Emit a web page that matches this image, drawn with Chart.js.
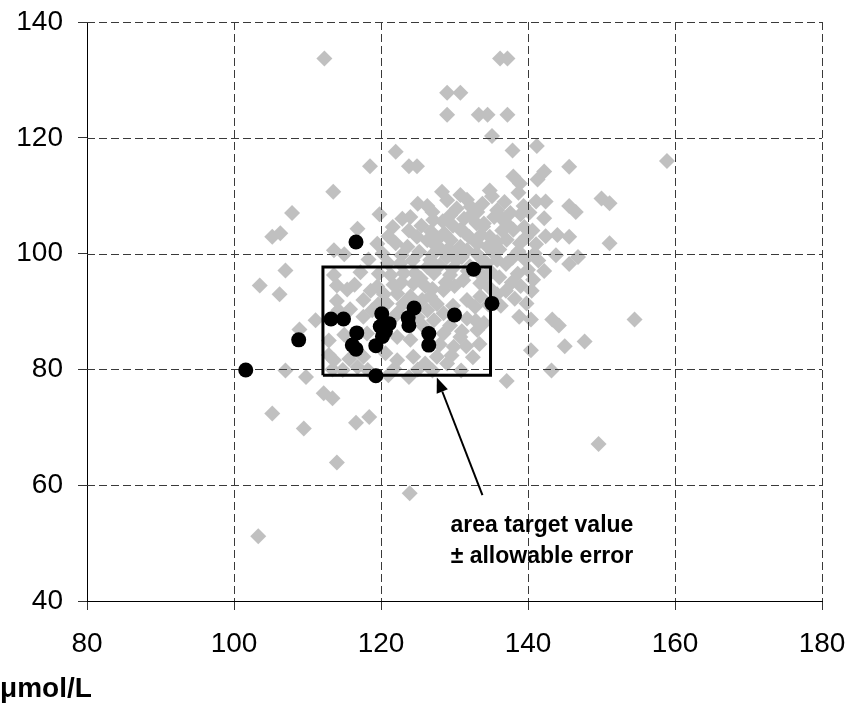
<!DOCTYPE html>
<html>
<head>
<meta charset="utf-8">
<title>Creatinine: laboratory results vs. peer group</title>
<script src="https://cdn.jsdelivr.net/npm/chart.js@4"></script>
<style>
  html, body { margin: 0; padding: 0; background: #fff; }
  #c { display: block; }
</style>
</head>
<body>
<canvas id="c" width="848" height="709"></canvas>
<script>
// Peer-group results (grey diamonds), x = method A, y = method B, µmol/L
const peerResults = [
  [112.3,133.7],[136.2,133.7],[137.2,133.7],[129.0,127.8],[130.8,127.8],
  [129.0,124.0],[133.3,124.0],[134.5,124.0],[137.2,124.0],[135.1,120.3],
  [122.0,117.6],[137.9,117.8],[141.2,118.6],[118.5,115.1],[123.8,115.1],
  [124.9,115.1],[145.6,115.0],[158.9,116.0],[138.0,113.3],[138.9,112.1],
  [141.3,112.8],[142.2,114.2],
  [113.5,110.7],[128.3,110.7],[130.8,110.1],[131.7,109.3],[135.1,109.9],
  [138.7,110.5],[141.1,109.0],[142.4,109.0],[145.6,108.2],[146.5,107.2],
  [150.0,109.5],[151.1,108.7],[107.9,107.0],[126.3,108.2],[130.3,107.8],
  [132.2,108.1],[133.1,107.2],[135.8,107.5],[136.2,106.3],[142.2,106.1],
  [122.9,106.0],[124.0,106.3],[127.1,105.8],[128.4,105.6],[131.3,106.0],
  [132.1,106.5],[133.0,105.2],[134.0,105.2],[135.4,106.3],[137.1,105.2],
  [138.0,104.1],[139.5,104.6],[140.6,104.0],[130.8,104.1],[133.9,104.7],
  [116.8,104.3],[123.8,104.0],[128.6,103.5],[125.5,104.8],[126.8,103.8],
  [129.8,104.8],[131.4,103.6],[133.6,103.2],[136.5,104.0],[121.0,103.0],
  [125.0,108.6],[127.0,107.2],[129.4,106.6],[129.0,109.2],[133.8,108.6],
  [134.8,110.9],[136.8,108.9],[137.6,107.0],[139.0,106.8],[139.4,108.2],
  [140.2,107.1],[121.6,104.6],[119.8,106.8],
  [105.2,102.9],[106.3,103.5],[119.5,101.7],[124.9,102.9],[126.3,102.3],
  [127.4,101.4],[129.5,102.3],[130.8,101.2],[132.0,102.9],[133.1,101.7],
  [134.5,101.2],[134.8,102.9],[135.8,102.0],[137.1,102.4],[138.9,101.8],
  [139.7,102.8],[141.1,101.6],[142.4,103.0],[144.0,103.2],[145.6,102.9],
  [151.1,101.8],[123.6,101.2],[113.6,100.6],[115.0,99.9],[136.1,100.7],
  [140.9,100.0],[131.7,100.6],[130.4,100.0],[128.3,100.6],[133.0,100.0],
  [122.0,101.8],[127.8,102.6],[125.2,100.3],[129.2,100.9],[135.2,100.2],
  [118.3,99.0],[120.2,100.0],[138.7,100.4],[139.6,99.0],
  [124.3,98.8],[126.3,97.7],[129.0,99.4],[117.2,96.8],[119.7,96.5],
  [107.0,97.1],[137.0,98.2],[137.9,99.3],[136.1,95.9],[143.8,99.7],
  [145.6,98.2],[146.8,99.4],[142.2,97.0],[122.6,98.3],[126.7,98.9],
  [130.3,98.9],[132.1,97.8],[134.4,98.3],[135.8,98.9],[127.0,99.8],
  [131.0,99.4],[133.8,99.0],[120.9,98.4],[122.8,99.7],[128.0,98.0],
  [129.7,97.4],[133.3,96.7],[135.0,96.8],[138.6,96.5],[137.8,95.0],
  [113.6,96.3],[121.3,96.3],[123.1,96.6],[125.4,95.7],[127.2,96.6],
  [129.4,96.3],[131.2,95.4],[133.5,94.9],[140.0,97.2],[141.4,98.8],
  [140.7,95.5],[134.0,96.0],[131.8,97.0],[124.6,96.6],
  [103.5,94.5],[106.2,93.0],[140.5,93.6],[137.0,93.6],[136.3,91.0],
  [133.5,92.6],[132.9,88.4],[138.8,89.1],[140.4,88.6],[143.3,88.6],
  [144.2,87.6],[154.5,88.6],[111.1,88.5],[115.4,93.8],[114.0,91.8],
  [117.6,92.0],[122.2,93.1],[124.0,92.6],[126.7,92.6],[128.5,93.7],
  [131.7,92.0],[120.8,91.4],[117.6,89.1],[122.2,89.7],[127.2,88.5],
  [128.5,89.7],[131.7,88.8],[126.3,90.2],[134.7,94.2],[130.0,94.4],
  [126.0,94.4],[124.4,94.8],[119.5,94.3],[121.7,94.6],[118.6,93.6],
  [127.6,91.3],[129.8,91.0],[132.8,90.8],[134.6,91.2],[125.0,89.0],
  [123.0,91.3],[119.6,91.2],[115.8,90.4],[114.0,94.5],[139.0,94.4],
  [138.2,92.2],[139.8,91.4],[135.8,93.0],[128.8,95.0],[127.0,93.9],
  [125.6,92.0],[122.8,95.0],[120.4,93.0],[116.4,94.6],[118.8,90.2],
  [121.6,88.8],[114.2,90.2],
  [108.9,86.9],[140.4,83.3],[145.0,84.0],[147.7,84.8],[143.2,79.8],
  [133.4,84.4],[132.5,82.1],[133.1,86.8],[107.0,79.8],
  [109.8,78.7],[113.4,80.0],[114.8,79.9],[116.8,80.4],[118.2,79.9],
  [121.8,80.1],[123.8,78.7],[125.0,80.0],[130.9,79.8],[137.1,78.0],
  [112.9,85.0],[112.9,82.5],[118.1,86.2],[122.2,85.6],[124.0,85.1],
  [128.5,86.2],[130.8,85.6],[129.9,83.9],[113.6,81.6],[117.6,82.2],
  [122.2,81.6],[124.4,82.2],[127.6,82.2],[129.0,81.0],[120.6,82.8],
  [126.0,81.0],[128.0,84.3],[115.7,81.8],[125.8,87.4],[129.4,87.6],
  [131.0,86.6],[134.0,88.0],[115.0,86.0],[129.6,82.4],[131.6,84.0],
  [127.0,79.8],[121.0,79.0],
  [112.2,75.9],[113.4,75.0],[105.2,72.4],[109.5,69.8],[116.6,70.8],
  [118.4,71.8],[114.0,63.9],[123.9,58.6],[103.3,51.2],[149.6,67.1]
];

// Own laboratory results (black dots)
const labResults = [
  [101.6,79.9],[108.8,85.1],[113.2,88.7],[114.9,88.7],[116.1,84.2],
  [116.6,83.5],[116.7,86.3],[116.6,102.0],[119.3,84.1],[119.3,78.9],
  [120.1,89.6],[119.9,87.4],[121.1,87.9],[120.2,85.7],[120.6,86.6],
  [123.7,88.9],[123.8,87.6],[124.5,90.6],[126.5,86.2],[126.5,84.2],
  [130.0,89.4],[132.6,97.3],[135.1,91.4]
];

// Target area: target value ± allowable error on both axes
const targetBoxX = [112.1, 134.9];
const targetBoxY = [79.0, 97.7];

// Axis ranges and tick step
const xRange = [80, 180];
const yRange = [40, 140];
const tickStep = 20;

// Callout: arrow from the note up to the target area
const arrowFrom = [133.8, 58.3];
const arrowTo = [127.6, 78.6];
const noteAnchor = [141.9, 51.9];
const noteLines = ['area target value', '\u00B1 allowable error'];
const unitLabel = '\u03BCmol/L';

const FONT = '"Liberation Sans", Arial, Helvetica, sans-serif';

const toPoints = arr => arr.map(([x, y]) => ({ x, y }));

const boxOutline = [
  { x: targetBoxX[0], y: targetBoxY[0] },
  { x: targetBoxX[1], y: targetBoxY[0] },
  { x: targetBoxX[1], y: targetBoxY[1] },
  { x: targetBoxX[0], y: targetBoxY[1] },
  { x: targetBoxX[0], y: targetBoxY[0] }
];

// Fixed axis band sizes; the outer margins come from layout.padding only.
const fixAxis = (size, horizontal) => s => {
  if (horizontal) s.height = size; else s.width = size;
  s.paddingTop = 0; s.paddingBottom = 0; s.paddingLeft = 0; s.paddingRight = 0;
};

// Dashed grid drawn right after the grey cloud, so it runs over the diamonds
// but stays under the target box and the laboratory dots.
const gridOverPeers = {
  id: 'gridOverPeers',
  afterDatasetDraw(chart, args) {
    if (args.index !== 2) return;
    const { ctx, chartArea: a, scales: { x, y } } = chart;
    ctx.save();
    ctx.strokeStyle = '#3a3a3a';
    ctx.lineWidth = 1;
    ctx.setLineDash([8, 4]);
    x.ticks.forEach(t => {
      if (t.value === x.min) return;
      const px = Math.round(x.getPixelForValue(t.value)) + 0.5;
      ctx.beginPath(); ctx.moveTo(px, a.top); ctx.lineTo(px, a.bottom); ctx.stroke();
    });
    y.ticks.forEach(t => {
      if (t.value === y.min) return;
      const py = Math.round(y.getPixelForValue(t.value)) + 0.5;
      ctx.beginPath(); ctx.moveTo(a.left, py); ctx.lineTo(a.right, py); ctx.stroke();
    });
    ctx.restore();
  }
};

const callout = {
  id: 'callout',
  afterDraw(chart) {
    const { ctx, scales: { x, y } } = chart;
    const x0 = x.getPixelForValue(arrowFrom[0]), y0 = y.getPixelForValue(arrowFrom[1]);
    const x1 = x.getPixelForValue(arrowTo[0]), y1 = y.getPixelForValue(arrowTo[1]);
    const ang = Math.atan2(y1 - y0, x1 - x0);
    const headLen = 15, headHalf = 6;
    const bx = x1 - Math.cos(ang) * headLen, by = y1 - Math.sin(ang) * headLen;
    ctx.save();
    ctx.strokeStyle = '#000';
    ctx.fillStyle = '#000';
    ctx.lineWidth = 2;
    ctx.beginPath(); ctx.moveTo(x0, y0); ctx.lineTo(bx, by); ctx.stroke();
    ctx.beginPath();
    ctx.moveTo(x1, y1);
    ctx.lineTo(bx + Math.sin(ang) * headHalf, by - Math.cos(ang) * headHalf);
    ctx.lineTo(bx - Math.sin(ang) * headHalf, by + Math.cos(ang) * headHalf);
    ctx.closePath();
    ctx.fill();

    ctx.font = 'bold 23px ' + FONT;
    ctx.textAlign = 'center';
    ctx.textBaseline = 'alphabetic';
    const nx = x.getPixelForValue(noteAnchor[0]);
    const ny = y.getPixelForValue(noteAnchor[1]);
    noteLines.forEach((line, i) => ctx.fillText(line, nx, ny + i * 31));

    ctx.font = 'bold 28px ' + FONT;
    ctx.textAlign = 'left';
    ctx.fillText(unitLabel, 0, 697);
    ctx.restore();
  }
};

new Chart(document.getElementById('c'), {
  type: 'scatter',
  data: {
    datasets: [
      {
        label: 'laboratory',
        data: toPoints(labResults),
        pointStyle: 'circle',
        pointRadius: 7.5,
        pointBorderWidth: 0,
        backgroundColor: '#000',
        borderColor: '#000'
      },
      {
        label: 'target area',
        type: 'line',
        data: boxOutline,
        borderColor: '#000',
        borderWidth: 3,
        borderJoinStyle: 'miter',
        pointRadius: 0,
        fill: false,
        tension: 0
      },
      {
        label: 'peer group',
        data: toPoints(peerResults),
        pointStyle: 'rectRot',
        pointRadius: 8,
        pointBorderWidth: 0,
        backgroundColor: '#c0c0c0',
        borderColor: '#c0c0c0'
      }
    ]
  },
  options: {
    responsive: false,
    animation: false,
    events: [],
    layout: { padding: { top: 22, right: 26, left: 0, bottom: 0 } },
    plugins: { legend: { display: false }, tooltip: { enabled: false }, title: { display: false } },
    scales: {
      x: {
        type: 'linear',
        min: xRange[0], max: xRange[1],
        ticks: { stepSize: tickStep, color: '#000', padding: 17, font: { family: FONT, size: 28 } },
        grid: { drawOnChartArea: false, tickLength: 9, color: '#333', tickColor: '#333' },
        border: { color: '#000', width: 1 },
        afterFit: fixAxis(108, true)
      },
      y: {
        type: 'linear',
        min: yRange[0], max: yRange[1],
        ticks: { stepSize: tickStep, color: '#000', padding: 15, font: { family: FONT, size: 28 } },
        grid: { drawOnChartArea: false, tickLength: 9, color: '#333', tickColor: '#333' },
        border: { color: '#000', width: 1 },
        afterFit: fixAxis(87, false)
      }
    }
  },
  plugins: [gridOverPeers, callout]
});
</script>
</body>
</html>
